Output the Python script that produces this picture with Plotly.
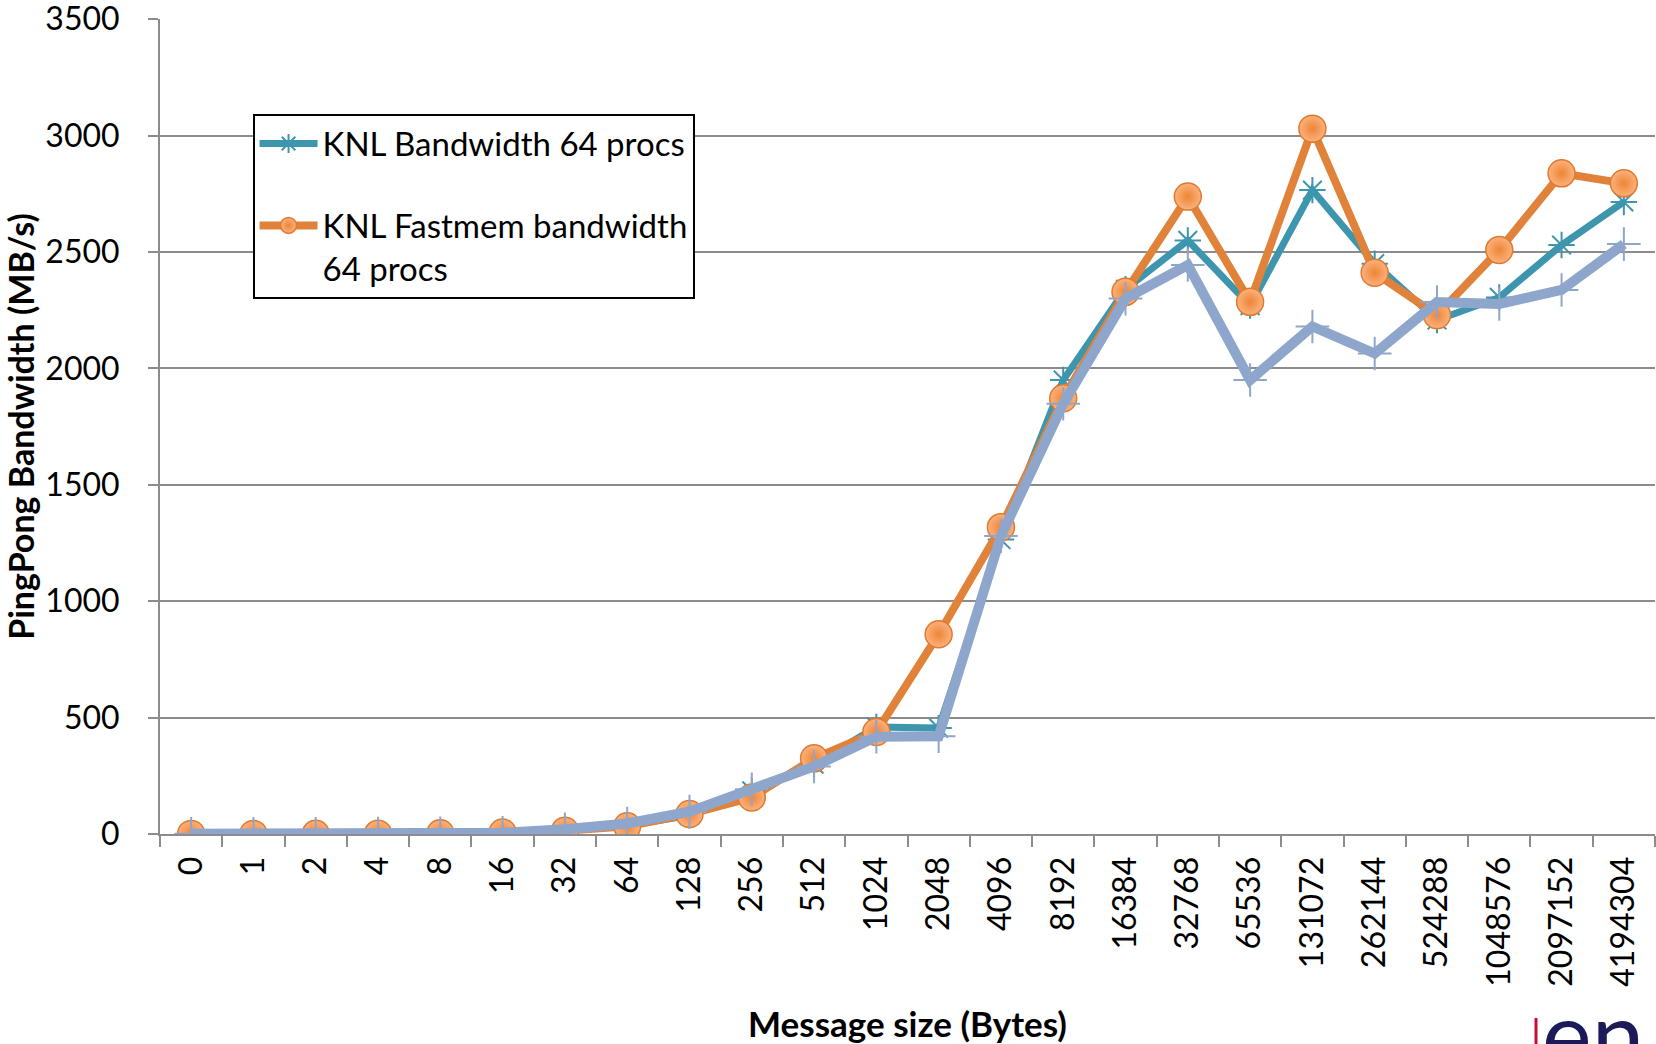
import plotly.graph_objects as go

# Message sizes (bytes) on the category axis
sizes = ["0", "1", "2", "4", "8", "16", "32", "64", "128", "256", "512", "1024",
         "2048", "4096", "8192", "16384", "32768", "65536", "131072", "262144",
         "524288", "1048576", "2097152", "4194304"]

# PingPong bandwidth in MB/s
knl_bw = [0.5, 0.5, 1, 1.5, 3, 6, 15, 35, 80, 185, 300, 460,
          455, 1265, 1950, 2340, 2550, 2270, 2766, 2450,
          2208, 2305, 2530, 2715]
knl_fastmem = [0.5, 0.5, 1, 1.5, 3, 6, 14, 33, 86, 157, 325, 438,
               858, 1318, 1872, 2329, 2738, 2286, 3030, 2411,
               2229, 2509, 2838, 2795]
third_run = [1, 1, 1, 1.5, 3, 5, 20, 45, 96, 192, 290, 418,
             420, 1280, 1848, 2300, 2444, 1950, 2180, 2064,
             2285, 2277, 2337, 2534]

y_ticks = [0, 500, 1000, 1500, 2000, 2500, 3000, 3500]

TEAL = "#3E95AE"
ORANGE = "#E0823A"
LIGHT_BLUE = "#8FA6CC"

fig = go.Figure()

fig.add_trace(go.Scatter(
    x=sizes, y=knl_bw, mode="lines+markers",
    name="KNL Bandwidth 64 procs", legendgroup="a",
    line=dict(color=TEAL, width=7),
    marker=dict(symbol="asterisk-open", size=22,
                line=dict(color=TEAL, width=2)),
))

fig.add_trace(go.Scatter(
    x=sizes, y=knl_fastmem, mode="lines+markers",
    name="KNL Fastmem bandwidth<br>64 procs", legendgroup="b",
    line=dict(color=ORANGE, width=8),
    marker=dict(symbol="circle", size=27, color="#FBB27E",
                gradient=dict(type="radial", color="#EE8536"),
                line=dict(color="#E07A2E", width=1.5)),
))

fig.add_trace(go.Scatter(
    x=sizes, y=third_run, mode="lines+markers",
    showlegend=False,
    line=dict(color=LIGHT_BLUE, width=10),
    marker=dict(symbol="cross-thin-open", size=24,
                line=dict(color=LIGHT_BLUE, width=2)),
))

AXIS_GRAY = "#8C8C8C"

fig.update_layout(
    width=1656, height=1044,
    margin=dict(l=160, r=1, t=19, b=210),
    paper_bgcolor="white", plot_bgcolor="white",
    font=dict(family="Lato", color="#000000"),
    showlegend=True,
    legend=dict(
        x=0.0619, y=0.884, xanchor="left", yanchor="top",
        bgcolor="white", bordercolor="#000000", borderwidth=2,
        font=dict(family="Lato", size=33, color="#000000"),
        itemwidth=58, valign="top",
        traceorder="grouped", tracegroupgap=36,
    ),
    xaxis=dict(
        type="category", categoryorder="array", categoryarray=sizes,
        range=[-0.5, len(sizes) - 0.5], automargin=False,
        showline=True, linecolor=AXIS_GRAY, linewidth=2,
        ticks="outside", tickson="boundaries", ticklen=11,
        tickcolor=AXIS_GRAY, tickwidth=2,
        tickangle=-90,
        tickfont=dict(family="Lato", size=32, color="#000000"),
        ticklabelstandoff=8,
        showgrid=False, zeroline=False,
        title=dict(text="<b>Message size (Bytes)</b>",
                   font=dict(family="Lato", size=35, color="#000000"),
                   standoff=36),
    ),
    yaxis=dict(
        range=[0, 3501], tickvals=y_ticks, automargin=False,
        showline=True, linecolor=AXIS_GRAY, linewidth=2,
        ticks="outside", ticklen=10, tickcolor=AXIS_GRAY, tickwidth=2,
        tickfont=dict(family="Lato", size=32, color="#000000"),
        ticklabelstandoff=22, ticklabeloverflow="allow",
        showgrid=True, gridcolor=AXIS_GRAY, gridwidth=2,
        zeroline=False,
        title=dict(text="<b>PingPong Bandwidth (MB/s)</b>",
                   font=dict(family="Lato", size=34, color="#000000"),
                   standoff=6),
    ),
)

# Partial logo at the lower right corner
fig.add_annotation(
    text="en", xref="paper", yref="paper",
    x=0.9232, y=-0.172, xanchor="left", yanchor="top",
    showarrow=False,
    font=dict(family="Lato", size=94, color="#1D1A5A"),
)
fig.add_shape(
    type="line", xref="paper", yref="paper",
    x0=0.9204, x1=0.9204, y0=-0.2258, y1=-0.28,
    line=dict(color="#C8102E", width=3),
)

fig.write_html("out.html")
